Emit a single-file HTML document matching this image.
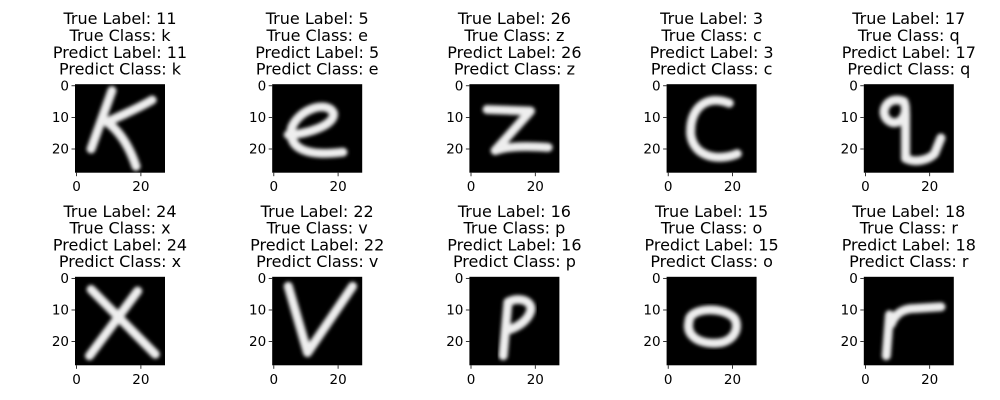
<!DOCTYPE html>
<html><head><meta charset="utf-8"><style>
body{margin:0;background:#fff;}
svg{display:block;font-family:"DejaVu Sans","Liberation Sans",sans-serif;}
</style></head><body>
<svg id="fig" width="1000" height="400" viewBox="0 0 1000 400">
<defs><filter id="bl" x="-20%" y="-20%" width="140%" height="140%"><feGaussianBlur stdDeviation="0.55"/></filter>
<clipPath id="cp"><rect x="0" y="0" width="28" height="28"/></clipPath></defs>
</svg>
<script>
const trueLabels=[11,5,26,3,17,24,22,16,15,18];
const trueClasses=['k','e','z','c','q','x','v','p','o','r'];
const predLabels=[11,5,26,3,17,24,22,16,15,18];
const predClasses=['k','e','z','c','q','x','v','p','o','r'];
const yTicks=[0,10,20];
const xTicks=[0,20];
const glyphs={
k:'M11.5,2 L5,20.5 M24,5 C19,8 14,10 10,12 C14,15 17,20 19,26',
e:'M5,16 C10,16 20,13 19,9 C17,5 8,8 6,14 C5,20 10,23 22,21.5',
z:'M5.5,8 L19,8.5 L8,21 C12,19.5 18,19.5 24.5,20',
c:'M19.5,6 C12,3 7,8 7.5,16 C8.5,23 16,24.5 22,22',
q:'M12.5,5.5 C7,3 4,10 8.5,12 C11.5,13 14,9.5 12.5,5.5 M13,9 L13,23.5 C16,25 20,24 22,22 L24,17',
x:'M5,4 L25,24.5 M19.5,4.5 L4.5,25',
v:'M5,3 L11,24 L25,3',
p:'M12,8 L10.5,25 M12,8 C16,6 20,8 19,11 C18,14 15,16 11.5,17',
o:'M7,14 C7,10 17,9 21,13 C23,16 21,21 15,21 C9,21 6,18 7,14 Z',
r:'M8,12 L7,25 M8.5,15 C10,11 13,10 16,10 L24,9.5'
};
const svg=document.getElementById('fig');
const NS='http://www.w3.org/2000/svg';
function mk(t,a){const e=document.createElementNS(NS,t);for(const k in a)e.setAttribute(k,a[k]);return e;}
const W=90,H=88.5;
const colX=i=>75+i*197.2;
const rowY=r=>r===0?84.2:276.8;
for(let i=0;i<10;i++){
  const r=Math.floor(i/5),c=i%5;
  const x0=colX(c),y0=rowY(r);
  const g=mk('g',{});
  
  
  svg.appendChild(g);
  const lines=['True Label: '+trueLabels[i],'True Class: '+trueClasses[i],'Predict Label: '+predLabels[i],'Predict Class: '+predClasses[i]];
  lines.forEach((s,j)=>{
    const t=mk('text',{x:x0+W/2,y:y0-60+j*16.8,'text-anchor':'middle','font-size':'16',fill:'#000'});
    
    
    t.textContent=s;g.appendChild(t);
  });
  const bg=mk('rect',{x:x0,y:y0,width:W,height:H,fill:'#000'});
  
  
  g.appendChild(bg);
  const ig=mk('g',{transform:`translate(${x0},${y0}) scale(${W/28},${H/28})`,'clip-path':'url(#cp)'});
  const p=mk('path',{d:glyphs[trueClasses[i]],fill:'none',stroke:'#eeeeee','stroke-width':'2.8','stroke-linecap':'round','stroke-linejoin':'round',filter:'url(#bl)'});
  
  
  ig.appendChild(p);g.appendChild(ig);
  const sx=v=>x0+(v+0.5)*W/28, sy=v=>y0+(v+0.5)*H/28;
  yTicks.forEach(v=>{
    g.appendChild(mk('line',{x1:x0-3.5,x2:x0,y1:sy(v),y2:sy(v),stroke:'#000','stroke-width':'0.8'}));
    const t=mk('text',{x:x0-6,y:sy(v)+4.5,'text-anchor':'end','font-size':'13.5',fill:'#000'});
    
    
    t.textContent=v;g.appendChild(t);
  });
  xTicks.forEach(v=>{
    g.appendChild(mk('line',{x1:sx(v),x2:sx(v),y1:y0+H,y2:y0+H+3.5,stroke:'#000','stroke-width':'0.8'}));
    const t=mk('text',{x:sx(v),y:y0+H+18.5,'text-anchor':'middle','font-size':'13.5',fill:'#000'});
    
    
    t.textContent=v;g.appendChild(t);
  });
}
</script>
</body></html>
